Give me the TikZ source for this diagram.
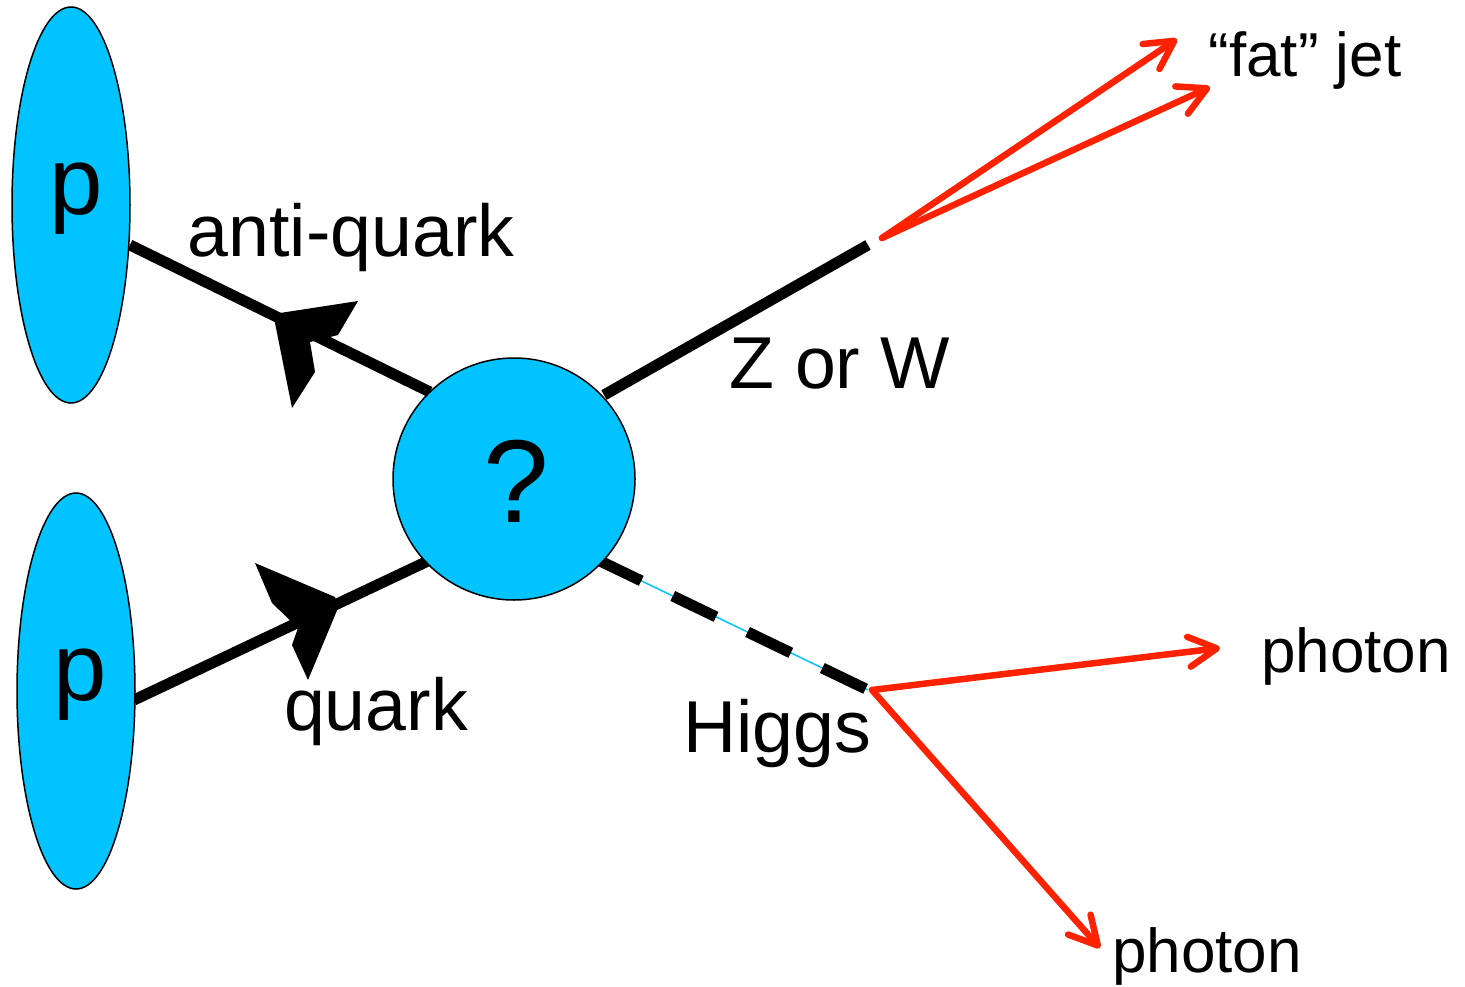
\documentclass[tikz,border=0pt]{standalone}
\usepackage{fontspec}
\setmainfont{Liberation Sans}
\usetikzlibrary{arrows.meta,shapes.geometric}
\definecolor{pcyan}{RGB}{0,195,255}
\definecolor{jred}{RGB}{255,34,0}
\begin{document}
\begin{tikzpicture}[x=1pt,y=-1pt,
 blob/.style={ellipse, draw=black, line width=1.5pt, fill=pcyan, minimum width=118pt, minimum height=396pt, inner sep=0},
 vertex/.style={circle, draw=black, line width=1.5pt, fill=pcyan, minimum size=242pt, inner sep=0},
 fermion/.style={line width=11pt},
 higgsline/.style={line width=11pt, dash pattern=on 48pt off 35pt},
 higgscore/.style={draw=pcyan, line width=1.5pt},
 decay/.style={draw=jred, line width=6.5pt, line cap=round, -{Straight Barb[length=28pt,width=30pt,line cap=round,line join=round]}},
 lbl/.style={anchor=base, inner sep=0, font=\fontsize{73.5}{80}\selectfont},
 slbl/.style={anchor=base, inner sep=0, font=\fontsize{62}{70}\selectfont},
 plbl/.style={anchor=base, inner sep=0, font=\fontsize{96}{100}\selectfont},
 qlbl/.style={anchor=base, inner sep=0, font=\fontsize{118}{120}\selectfont},
]
\useasboundingbox (0,0) rectangle (1465,987);
% coordinates of line ends
\coordinate (aq0) at (130,245);
\coordinate (aq1) at (430,392);
\coordinate (q0) at (134,700);
\coordinate (q1) at (430,560);
\coordinate (z0) at (604,395);
\coordinate (z1) at (868,245);
\coordinate (h0) at (598,560);
\coordinate (h1) at (868,690);
\coordinate (j0) at (882,238);
\coordinate (j1) at (1177,39);
\coordinate (j2) at (1210,87);
\coordinate (g0) at (872,690);
\coordinate (g1) at (1220,648);
\coordinate (g2) at (1100,948);
% fermion lines
\draw[fermion] (aq0) -- (aq1);
\draw[fermion] (q0) -- (q1);
\fill (280,313) -- (358,301) -- (338,335) -- (310,342) -- (315,372) -- (292,408) -- (275,323) -- cycle;
\fill (255,563) -- (335,597) -- (338,608) -- (308,680) -- (292,645) -- (298,628) -- (272,603) -- cycle;
% boson lines
\draw[fermion] (z0) -- (z1);
\draw[higgscore] (h0) -- (h1);
\draw[higgsline] (h0) -- (h1);
% nodes
\node[blob] (p1) at (71,205) {};
\node[blob] (p2) at (76,691) {};
\node[vertex] (v) at (514,479) {};
\node[plbl] (p1t) at (76,215) {p};
\node[plbl] (p2t) at (80,700) {p};
\node[qlbl] (qm) at (516,522) {?};
% decays
\draw[decay] (j0) -- (j1);
\draw[decay] (j0) -- (j2);
\draw[decay] (g0) -- (g1);
\draw[decay] (g0) -- (g2);
% labels
\node[lbl] (laq) at (351,257) {anti-quark};
\node[lbl] (lq) at (376,730) {quark};
\node[lbl] (lzw) at (840,388) {Z or W};
\node[lbl] (lh) at (777,752) {Higgs};
\node[slbl] (lj) at (1305,77) {“fat” jet};
\node[slbl] (lg1) at (1356,672) {photon};
\node[slbl] (lg2) at (1207,972) {photon};
\end{tikzpicture}
\end{document}
